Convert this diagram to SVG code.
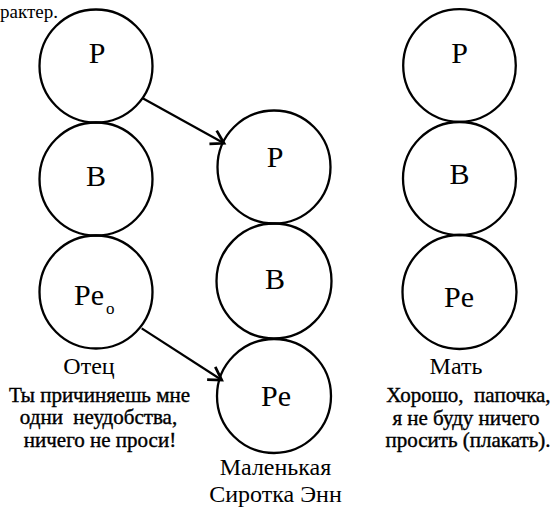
<svg xmlns="http://www.w3.org/2000/svg" width="555" height="508" viewBox="0 0 555 508">
<defs>
<style>
.c{fill:none;stroke:#000;stroke-width:2.3}
.n{font-family:"Liberation Serif","Times New Roman",serif;font-size:30px;fill:#000;text-anchor:middle}
.l{font-family:"Liberation Serif","Times New Roman",serif;font-size:24px;fill:#000;text-anchor:middle}
.q{font-family:"Liberation Serif","Times New Roman",serif;font-size:21px;fill:#000;text-anchor:middle;stroke:#000;stroke-width:0.4;white-space:pre}
.a{fill:none;stroke:#000;stroke-width:2.2}
</style>
<marker id="ah" markerUnits="userSpaceOnUse" markerWidth="20" markerHeight="20" refX="0" refY="0" viewBox="-12 -8 14 16" orient="auto" overflow="visible">
<path d="M-10,-6 L0,0 L-10,6" fill="none" stroke="#000" stroke-width="2.2"/>
</marker>
</defs>
<rect width="555" height="508" fill="#fff"/>
<text x="0" y="18" font-family="Liberation Serif, serif" font-size="19">рактер.</text>
<g id="father">
<g id="f-p"><circle class="c" cx="96" cy="66" r="56.5"/><text class="n" x="97" y="62.5">P</text></g>
<g id="f-b"><circle class="c" cx="96" cy="179" r="56.5"/><text class="n" x="96" y="185.5">B</text></g>
<g id="f-pe"><circle class="c" cx="96" cy="292" r="56.5"/><text class="n" x="74" y="305" style="text-anchor:start">Pe<tspan font-size="17" dx="2" dy="9">o</tspan></text></g>
<text class="l" x="89" y="374">Отец</text>
<text class="q" x="99.5" y="401.5" xml:space="preserve">Ты причиняешь мне</text>
<text class="q" x="98.5" y="424" xml:space="preserve">одни  неудобства,</text>
<text class="q" x="100" y="446.5" xml:space="preserve">ничего не проси!</text>
</g>
<g id="child">
<g id="c-p"><circle class="c" cx="274" cy="167" r="56.5"/><text class="n" x="275" y="167">P</text></g>
<g id="c-b"><circle class="c" cx="274" cy="281" r="57.5"/><text class="n" x="275" y="289">B</text></g>
<g id="c-pe"><circle class="c" cx="274" cy="396" r="57"/><text class="n" x="276" y="405.5">Pe</text></g>
<text class="l" x="275.5" y="475">Маленькая</text>
<text class="l" x="275.5" y="501.5">Сиротка Энн</text>
</g>
<g id="mother">
<g id="m-p"><circle class="c" cx="459.5" cy="65.5" r="56.3"/><text class="n" x="459.5" y="62.5">P</text></g>
<g id="m-b"><circle class="c" cx="459.5" cy="178.5" r="56.5"/><text class="n" x="459.5" y="183.5">B</text></g>
<g id="m-pe"><circle class="c" cx="459.5" cy="292" r="57"/><text class="n" x="459" y="306.5">Pe</text></g>
<text class="l" x="456" y="374">Мать</text>
<text class="q" x="468.5" y="402" xml:space="preserve">Хорошо,  папочка,</text>
<text class="q" x="466" y="424.5" xml:space="preserve">я не буду ничего</text>
<text class="q" x="468" y="447" xml:space="preserve">просить (плакать).</text>
</g>
<g id="connectors">
<line class="a" x1="142.7" y1="98.3" x2="224" y2="143.3" marker-end="url(#ah)"/>
<line class="a" x1="141.7" y1="328.3" x2="221.7" y2="380" marker-end="url(#ah)"/>
</g>
</svg>
